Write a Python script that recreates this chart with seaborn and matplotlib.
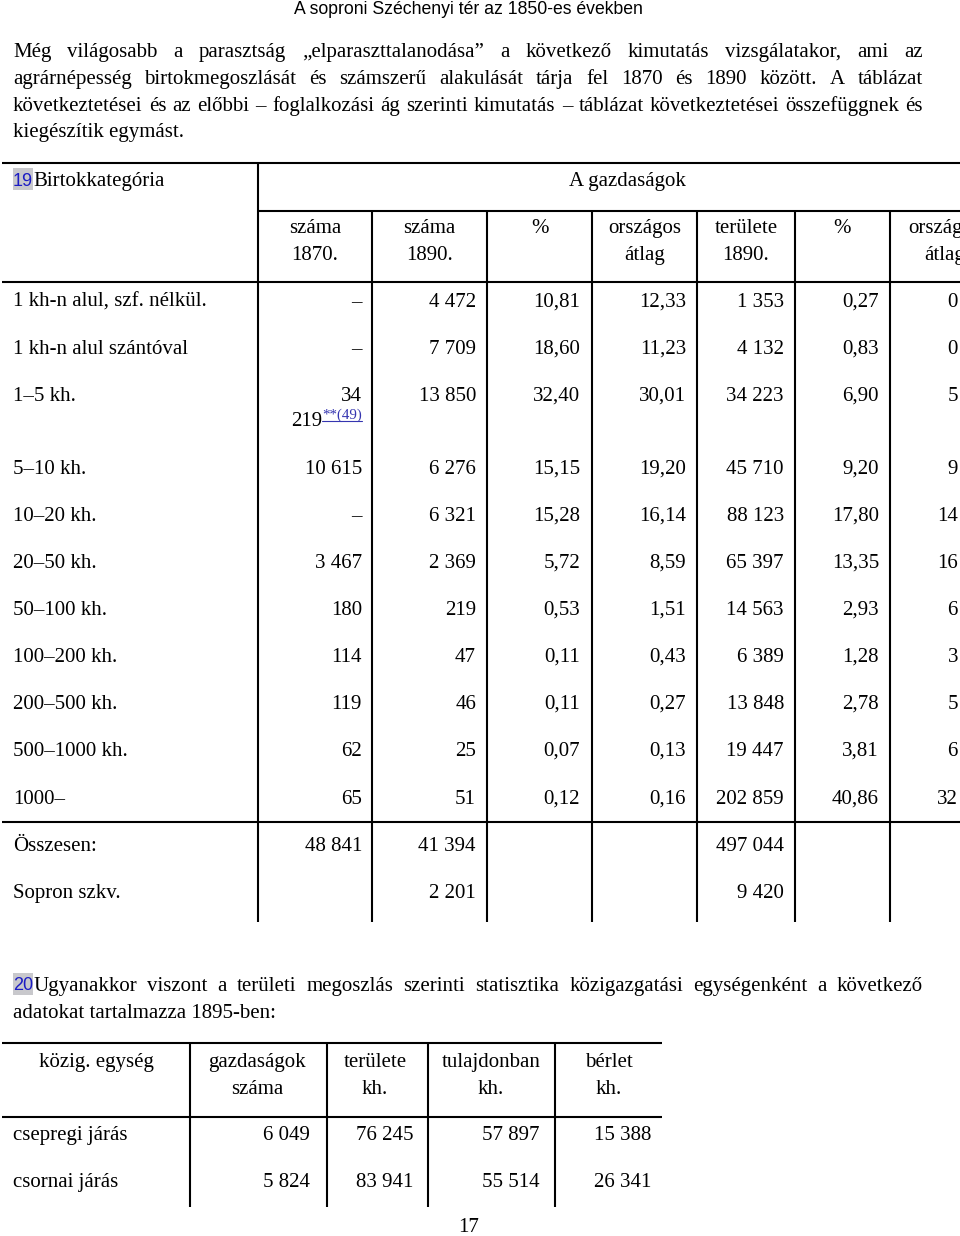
import matplotlib
matplotlib.use("Agg")
import matplotlib.pyplot as plt
import seaborn as sns
from matplotlib.patches import Rectangle

sns.set_theme(style="white")
plt.rcParams['font.family'] = ['Liberation Serif', 'DejaVu Serif']

# Page texts
page_title = "A soproni Széchenyi tér az 1850-es években"
para1 = ["Még világosabb a parasztság „elparaszttalanodása” a következő kimutatás vizsgálatakor, ami az",
         "agrárnépesség birtokmegoszlását és számszerű alakulását tárja fel 1870 és 1890 között. A táblázat",
         "következtetései és az előbbi – foglalkozási ág szerinti kimutatás – táblázat következtetései összefüggnek és",
         "kiegészítik egymást."]
para2 = ["Ugyanakkor viszont a területi megoszlás szerinti statisztika közigazgatási egységenként a következő",
         "adatokat tartalmazza 1895-ben:"]
page_number = "17"

# Table 1 data
t1_labels = ["1 kh-n alul, szf. nélkül.", "1 kh-n alul szántóval", "1–5 kh.", "5–10 kh.", "10–20 kh.",
             "20–50 kh.", "50–100 kh.", "100–200 kh.", "200–500 kh.", "500–1000 kh.", "1000–"]
t1_szama_1870 = ["–", "–", "34", "10 615", "–", "3 467", "180", "114", "119", "62", "65"]
t1_szama_1890 = ["4 472", "7 709", "13 850", "6 276", "6 321", "2 369", "219", "47", "46", "25", "51"]
t1_pct = ["10,81", "18,60", "32,40", "15,15", "15,28", "5,72", "0,53", "0,11", "0,11", "0,07", "0,12"]
t1_orsz = ["12,33", "11,23", "30,01", "19,20", "16,14", "8,59", "1,51", "0,43", "0,27", "0,13", "0,16"]
t1_terulet = ["1 353", "4 132", "34 223", "45 710", "88 123", "65 397", "14 563", "6 389", "13 848",
              "19 447", "202 859"]
t1_pct2 = ["0,27", "0,83", "6,90", "9,20", "17,80", "13,35", "2,93", "1,28", "2,78", "3,81", "40,86"]
t1_orsz2 = ["0", "0", "5", "9", "14", "16", "6", "3", "5", "6", "32"]  # cut off at page edge
t1_heads = [("száma", "1870."), ("száma", "1890."), ("%", ""), ("országos", "átlag"),
            ("területe", "1890."), ("%", ""), ("országos", "átlag")]
t1_totals = [("Összesen:", "48 841", "41 394", "497 044"), ("Sopron szkv.", "", "2 201", "9 420")]

# Table 2 data
t2_heads = [("közig. egység", ""), ("gazdaságok", "száma"), ("területe", "kh."),
            ("tulajdonban", "kh."), ("bérlet", "kh.")]
t2_units = ["csepregi járás", "csornai járás"]
t2_gazd = ["6 049", "5 824"]
t2_terulet = ["76 245", "83 941"]
t2_tulaj = ["57 897", "55 514"]
t2_berlet = ["15 388", "26 341"]

FS = 15
fig = plt.figure(figsize=(9.6, 12.36), dpi=100)
ax = fig.add_axes([0, 0, 1, 1])
ax.set_xlim(0, 960)
ax.set_ylim(1236, 0)
ax.axis("off")
renderer = fig.canvas.get_renderer()


def txt(x, y, s, ha="left", size=FS, **kw):
    return ax.text(x, y, s, ha=ha, va="center_baseline", fontsize=size, color="black", **kw)


def justify(line, y, x0, x1):
    words = line.split(" ")
    objs = [txt(0, y, w) for w in words]
    widths = [o.get_window_extent(renderer).width for o in objs]
    gap = (x1 - x0 - sum(widths)) / (len(words) - 1)
    x = x0
    for o, w in zip(objs, widths):
        o.set_x(x)
        x += w + gap


def badge(x, y, s):
    ax.add_patch(Rectangle((x, y - 11), 20, 22, color="#c8c8cc", lw=0))
    ax.text(x + 10, y, s, ha="center", va="center_baseline", fontsize=13,
            family="Liberation Sans", color="#1c1cc4")


def hline(y, x0, x1):
    ax.plot([x0, x1], [y, y], color="black", lw=1.5, solid_capstyle="butt")


def vline(x, y0, y1):
    ax.plot([x, x], [y0, y1], color="black", lw=1.5, solid_capstyle="butt")


# running header
ax.text(468, 8, page_title, ha="center", va="center_baseline", fontsize=12.7,
        family="Liberation Sans", color="black")

# paragraph 1
ys = [50, 77, 104, 130]
for i, line in enumerate(para1):
    if i < 3:
        justify(line, ys[i], 13, 923)
    else:
        txt(13, ys[i], line)

# ---- table 1 ----
hline(163, 2, 960)
vline(258, 163, 922)
hline(211, 258, 960)
cols = [258, 372, 487, 592, 697, 795, 890, 1000]
for c in cols[1:-1]:
    vline(c, 211, 922)
hline(282, 2, 960)
hline(822, 2, 960)

badge(13, 179, "19")
txt(33, 179, "Birtokkategória")
txt(627, 179, "A gazdaságok", ha="center")
for i, (a, b) in enumerate(t1_heads):
    cx = (cols[i] + cols[i + 1]) / 2 if i < 6 else 945
    txt(cx, 226, a, ha="center")
    if b:
        txt(cx, 253, b, ha="center")

row_y = [300, 347, 394, 467, 514, 561, 608, 655, 702, 749, 797]
series = [t1_szama_1870, t1_szama_1890, t1_pct, t1_orsz, t1_terulet, t1_pct2]
rights = [362, 476, 580, 686, 784, 879]
for r, y in enumerate(row_y):
    txt(13, y, t1_labels[r])
    for vals, xr in zip(series, rights):
        txt(xr, y, vals[r], ha="right")
    txt(958, y, t1_orsz2[r], ha="right")

# footnote reference under "34"
txt(322, 419, "219", ha="right")
ax.text(362, 414, "**(49)", ha="right", va="center_baseline", fontsize=10.8, color="#3535b0")
ax.plot([322, 362], [421, 421], color="#3535b0", lw=0.8)

for (lab, a, b, c), y in zip(t1_totals, [844, 891]):
    txt(13, y, lab)
    txt(362, y, a, ha="right")
    txt(476, y, b, ha="right")
    txt(784, y, c, ha="right")

# paragraph 2
badge(13, 984, "20")
justify(para2[0], 984, 33, 923)
txt(13, 1011, para2[1])

# ---- table 2 ----
hline(1043, 2, 662)
hline(1117, 2, 662)
cols2 = [0, 190, 327, 428, 555, 662]
for c in cols2[1:-1]:
    vline(c, 1043, 1207)
centers2 = [96, 257, 375, 491, 609]
for (a, b), cx in zip(t2_heads, centers2):
    txt(cx, 1060, a, ha="center")
    if b:
        txt(cx, 1087, b, ha="center")
rights2 = [310, 413, 540, 651]
for r, y in enumerate([1133, 1180]):
    txt(13, y, t2_units[r])
    for vals, xr in zip([t2_gazd, t2_terulet, t2_tulaj, t2_berlet], rights2):
        txt(xr, y, vals[r], ha="right")

txt(469, 1225, page_number, ha="center")

fig.savefig("out.png", dpi=100)
